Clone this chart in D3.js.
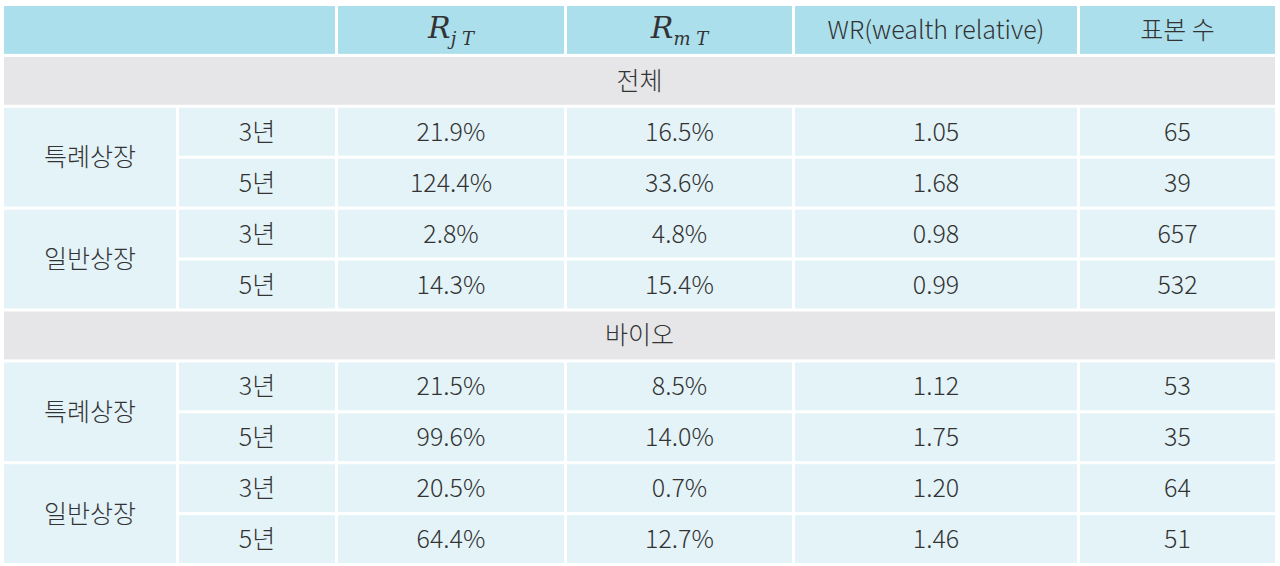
<!DOCTYPE html>
<html><head><meta charset="utf-8">
<script src="https://cdn.jsdelivr.net/npm/d3@7"></script>
<style>
body{margin:0;background:#fff;}
text{font-family:"Noto Sans CJK KR","Noto Sans",sans-serif;font-weight:300;fill:#333;}
</style></head>
<body><svg id="chart" width="1280" height="566"></svg>
<script>
// table contents
const headers = ['', 'R_jT', 'R_mT', 'WR(wealth relative)', '표본 수'];
const sections = ['전체', '바이오'];
const groups = ['특례상장', '일반상장'];
const periods = ['3년', '5년'];
const rjt = [['21.9%', '124.4%', '2.8%', '14.3%'], ['21.5%', '99.6%', '20.5%', '64.4%']];
const rmt = [['16.5%', '33.6%', '4.8%', '15.4%'], ['8.5%', '14.0%', '0.7%', '12.7%']];
const wr = [['1.05', '1.68', '0.98', '0.99'], ['1.12', '1.75', '1.20', '1.46']];
const counts = [['65', '39', '657', '532'], ['53', '35', '64', '51']];

const colEdges = [4, 179, 338, 567, 795, 1080, 1278];
const gap = 3;
const svg = d3.select('#chart');

// one band per table row: header + (section + 4 rows) * 2
const rowIds = ['h'];
sections.forEach((s, si) => { rowIds.push('s' + si); for (let r = 0; r < 4; r++) rowIds.push(si + '-' + r); });
const y = d3.scaleBand().domain(rowIds).range([6, 563]).paddingInner(0.06);
// header row is a bit taller; shift others
const rowH = y.bandwidth();

function cell(x0, x1, yy, h, fill, label, opts = {}) {
  svg.append('rect').attr('x', x0).attr('y', yy).attr('width', x1 - x0 - gap).attr('height', h).attr('fill', fill);
  if (label === undefined) return;
  const t = svg.append('text').attr('x', (x0 + x1 - gap) / 2).attr('y', yy + h / 2 + 9)
    .attr('text-anchor', 'middle').attr('font-size', 25);
  if (opts.math) {
    t.style('font-family', '"DejaVu Serif","Liberation Serif",serif').style('font-style', 'italic').style('font-weight', 400)
      .attr('font-size', 30).attr('y', yy + h / 2 + 8);
    t.append('tspan').text('R');
    t.append('tspan').text(opts.math).attr('font-size', 18).attr('dy', 7);
  } else t.text(label);
}

// header
const hy = y('h');
cell(colEdges[0], colEdges[2], hy, rowH, '#abdfec', '');
cell(colEdges[2], colEdges[3], hy, rowH, '#abdfec', 'R', { math: 'j T' });
cell(colEdges[3], colEdges[4], hy, rowH, '#abdfec', 'R', { math: 'm T' });
cell(colEdges[4], colEdges[5], hy, rowH, '#abdfec', headers[3]);
cell(colEdges[5], colEdges[6], hy, rowH, '#abdfec', headers[4]);

sections.forEach((s, si) => {
  const sy = y('s' + si);
  cell(colEdges[0], colEdges[6], sy, rowH, '#e6e6e8', s);
  groups.forEach((g, gi) => {
    const gy = y(si + '-' + gi * 2);
    const gh = y(si + '-' + (gi * 2 + 1)) + rowH - gy;
    cell(colEdges[0], colEdges[1], gy, gh, '#e4f3f8', g);
    periods.forEach((p, pi) => {
      const r = gi * 2 + pi;
      const ry = y(si + '-' + r);
      const vals = [p, rjt[si][r], rmt[si][r], wr[si][r], counts[si][r]];
      vals.forEach((v, ci) => cell(colEdges[ci + 1], colEdges[ci + 2], ry, rowH, '#e4f3f8', v));
    });
  });
});
</script></body></html>
